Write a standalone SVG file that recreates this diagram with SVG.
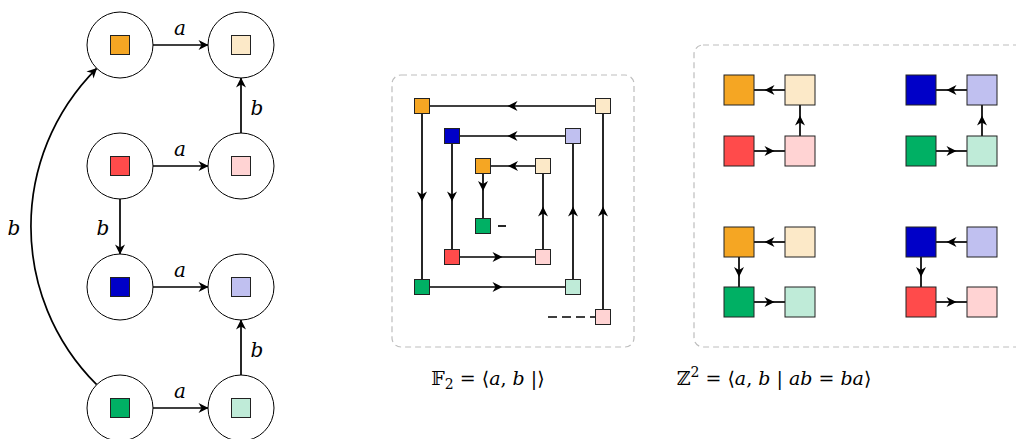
<svg xmlns="http://www.w3.org/2000/svg" width="1016" height="439" viewBox="0 0 1016 439">
<style>
.c{fill:#fff;stroke:#000;stroke-width:1}
.e{fill:none;stroke:#000;stroke-width:1.7}
.sq{stroke:#222;stroke-width:1}
.frame{fill:none;stroke:#bdbdbd;stroke-width:1.2;stroke-dasharray:6 4}
.lbl{font-family:"DejaVu Serif",serif;font-style:italic;font-size:20px;fill:#000}
.it{font-family:"DejaVu Serif",serif;font-style:italic}
.f{font-family:"DejaVu Serif",serif;font-size:19px;fill:#000}
.o{fill:#F5A623}.cr{fill:#FCE9C8}.r{fill:#FF4B4B}.p{fill:#FFD3D3}
.bl{fill:#0000C8}.lv{fill:#C0C0F0}.g{fill:#00B064}.m{fill:#BFEBD8}
</style>
<defs>
<marker id="ah" markerUnits="userSpaceOnUse" markerWidth="14" markerHeight="12" viewBox="-11 -6 12 12" refX="0" refY="0" orient="auto">
<path d="M0.5,0 L-9.5,-5 L-6.5,0 L-9.5,5 Z" fill="#000"/>
</marker>
<marker id="am" markerUnits="userSpaceOnUse" markerWidth="16" markerHeight="12" viewBox="-11 -6 16 12" refX="-4.5" refY="0" orient="auto">
<path d="M0.5,0 L-9.5,-5 L-6.5,0 L-9.5,5 Z" fill="#000"/>
</marker>
</defs>

<!-- Left panel -->
<g id="connectors-left">
<path class="e" d="M153,45 L208,45" marker-end="url(#ah)"/>
<path class="e" d="M153,166 L208,166" marker-end="url(#ah)"/>
<path class="e" d="M153,287 L208,287" marker-end="url(#ah)"/>
<path class="e" d="M153,408 L208,408" marker-end="url(#ah)"/>
<path class="e" d="M241,133 L241,78" marker-end="url(#ah)"/>
<path class="e" d="M241,375 L241,320" marker-end="url(#ah)"/>
<path class="e" d="M120,199 L120,254" marker-end="url(#ah)"/>
<path class="e" d="M96.7,384.7 C9,297 9,156 96.7,68.3" marker-end="url(#ah)"/>
<text class="lbl" x="180" y="35" text-anchor="middle">a</text>
<text class="lbl" x="180" y="156" text-anchor="middle">a</text>
<text class="lbl" x="180" y="277" text-anchor="middle">a</text>
<text class="lbl" x="180" y="398" text-anchor="middle">a</text>
<text class="lbl" x="257" y="115" text-anchor="middle">b</text>
<text class="lbl" x="257" y="357" text-anchor="middle">b</text>
<text class="lbl" x="103" y="235" text-anchor="middle">b</text>
<text class="lbl" x="14" y="235" text-anchor="middle">b</text>
</g>
<g id="n-l1"><circle class="c" cx="120" cy="45" r="33"/><rect class="sq o" x="110.5" y="35.5" width="19" height="19"/></g>
<g id="n-l2"><circle class="c" cx="241" cy="45" r="33"/><rect class="sq cr" x="231.5" y="35.5" width="19" height="19"/></g>
<g id="n-l3"><circle class="c" cx="120" cy="166" r="33"/><rect class="sq r" x="110.5" y="156.5" width="19" height="19"/></g>
<g id="n-l4"><circle class="c" cx="241" cy="166" r="33"/><rect class="sq p" x="231.5" y="156.5" width="19" height="19"/></g>
<g id="n-l5"><circle class="c" cx="120" cy="287" r="33"/><rect class="sq bl" x="110.5" y="277.5" width="19" height="19"/></g>
<g id="n-l6"><circle class="c" cx="241" cy="287" r="33"/><rect class="sq lv" x="231.5" y="277.5" width="19" height="19"/></g>
<g id="n-l7"><circle class="c" cx="120" cy="408" r="33"/><rect class="sq g" x="110.5" y="398.5" width="19" height="19"/></g>
<g id="n-l8"><circle class="c" cx="241" cy="408" r="33"/><rect class="sq m" x="231.5" y="398.5" width="19" height="19"/></g>

<!-- Middle panel -->
<rect class="frame" x="392" y="75" width="242" height="272" rx="9"/>
<g id="connectors-mid">
<path class="e" d="M603,106 L512.5,106 L422,106" marker-mid="url(#am)"/>
<path class="e" d="M422,106 L422,196.5 L422,287" marker-mid="url(#am)"/>
<path class="e" d="M422,287 L497.5,287 L573,287" marker-mid="url(#am)"/>
<path class="e" d="M573,287 L573,211.5 L573,136" marker-mid="url(#am)"/>
<path class="e" d="M573,136 L512.5,136 L452,136" marker-mid="url(#am)"/>
<path class="e" d="M452,136 L452,196.5 L452,257" marker-mid="url(#am)"/>
<path class="e" d="M452,257 L497.5,257 L543,257" marker-mid="url(#am)"/>
<path class="e" d="M543,257 L543,211.5 L543,166" marker-mid="url(#am)"/>
<path class="e" d="M543,166 L513,166 L483,166" marker-mid="url(#am)"/>
<path class="e" d="M483,166 L483,186 L483,226" marker-mid="url(#am)"/>
<path class="e" d="M603,317 L603,211.5 L603,106" marker-mid="url(#am)"/>
<path class="e" d="M548,317 L596,317" stroke-dasharray="9 5"/>
<path class="e" d="M498,226 L506,226"/>
</g>
<g id="n-m1"><rect class="sq o" x="414.5" y="98.5" width="15" height="15"/></g>
<g id="n-m2"><rect class="sq cr" x="595.5" y="98.5" width="15" height="15"/></g>
<g id="n-m3"><rect class="sq bl" x="444.5" y="128.5" width="15" height="15"/></g>
<g id="n-m4"><rect class="sq lv" x="565.5" y="128.5" width="15" height="15"/></g>
<g id="n-m5"><rect class="sq o" x="475.5" y="158.5" width="15" height="15"/></g>
<g id="n-m6"><rect class="sq cr" x="535.5" y="158.5" width="15" height="15"/></g>
<g id="n-m7"><rect class="sq g" x="475.5" y="218.5" width="15" height="15"/></g>
<g id="n-m8"><rect class="sq r" x="444.5" y="249.5" width="15" height="15"/></g>
<g id="n-m9"><rect class="sq p" x="535.5" y="249.5" width="15" height="15"/></g>
<g id="n-m10"><rect class="sq g" x="414.5" y="279.5" width="15" height="15"/></g>
<g id="n-m11"><rect class="sq m" x="565.5" y="279.5" width="15" height="15"/></g>
<g id="n-m12"><rect class="sq p" x="595.5" y="309.5" width="15" height="15"/></g>
<text class="f" x="488" y="385" text-anchor="middle">𝔽<tspan font-size="14" dy="4">2</tspan><tspan dy="-4"> = ⟨</tspan><tspan class="it">a</tspan>, <tspan class="it">b</tspan> |⟩</text>

<!-- Right panel -->
<rect class="frame" x="694" y="45" width="340" height="302" rx="9"/>
<g id="connectors-right">
<path class="e" d="M785,90 L769.5,90 L754,90" marker-mid="url(#am)"/>
<path class="e" d="M800,136 L800,120.5 L800,105" marker-mid="url(#am)"/>
<path class="e" d="M754,151 L769.5,151 L785,151" marker-mid="url(#am)"/>
<path class="e" d="M967,90 L951.5,90 L936,90" marker-mid="url(#am)"/>
<path class="e" d="M982,136 L982,120.5 L982,105" marker-mid="url(#am)"/>
<path class="e" d="M936,151 L951.5,151 L967,151" marker-mid="url(#am)"/>
<path class="e" d="M785,242 L769.5,242 L754,242" marker-mid="url(#am)"/>
<path class="e" d="M739,257 L739,272 L739,287" marker-mid="url(#am)"/>
<path class="e" d="M754,302 L769.5,302 L785,302" marker-mid="url(#am)"/>
<path class="e" d="M967,242 L951.5,242 L936,242" marker-mid="url(#am)"/>
<path class="e" d="M921,257 L921,272 L921,287" marker-mid="url(#am)"/>
<path class="e" d="M936,302 L951.5,302 L967,302" marker-mid="url(#am)"/>
</g>
<g id="n-r1"><rect class="sq o" x="724" y="75" width="30" height="30"/></g>
<g id="n-r2"><rect class="sq cr" x="785" y="75" width="30" height="30"/></g>
<g id="n-r3"><rect class="sq r" x="724" y="136" width="30" height="30"/></g>
<g id="n-r4"><rect class="sq p" x="785" y="136" width="30" height="30"/></g>
<g id="n-r5"><rect class="sq bl" x="906" y="75" width="30" height="30"/></g>
<g id="n-r6"><rect class="sq lv" x="967" y="75" width="30" height="30"/></g>
<g id="n-r7"><rect class="sq g" x="906" y="136" width="30" height="30"/></g>
<g id="n-r8"><rect class="sq m" x="967" y="136" width="30" height="30"/></g>
<g id="n-r9"><rect class="sq o" x="724" y="227" width="30" height="30"/></g>
<g id="n-r10"><rect class="sq cr" x="785" y="227" width="30" height="30"/></g>
<g id="n-r11"><rect class="sq g" x="724" y="287" width="30" height="30"/></g>
<g id="n-r12"><rect class="sq m" x="785" y="287" width="30" height="30"/></g>
<g id="n-r13"><rect class="sq bl" x="906" y="227" width="30" height="30"/></g>
<g id="n-r14"><rect class="sq lv" x="967" y="227" width="30" height="30"/></g>
<g id="n-r15"><rect class="sq r" x="906" y="287" width="30" height="30"/></g>
<g id="n-r16"><rect class="sq p" x="967" y="287" width="30" height="30"/></g>
<text class="f" x="774" y="385" text-anchor="middle">ℤ<tspan font-size="14" dy="-8">2</tspan><tspan dy="8"> = ⟨</tspan><tspan class="it">a</tspan>, <tspan class="it">b</tspan> | <tspan class="it">ab</tspan> = <tspan class="it">ba</tspan>⟩</text>
</svg>
